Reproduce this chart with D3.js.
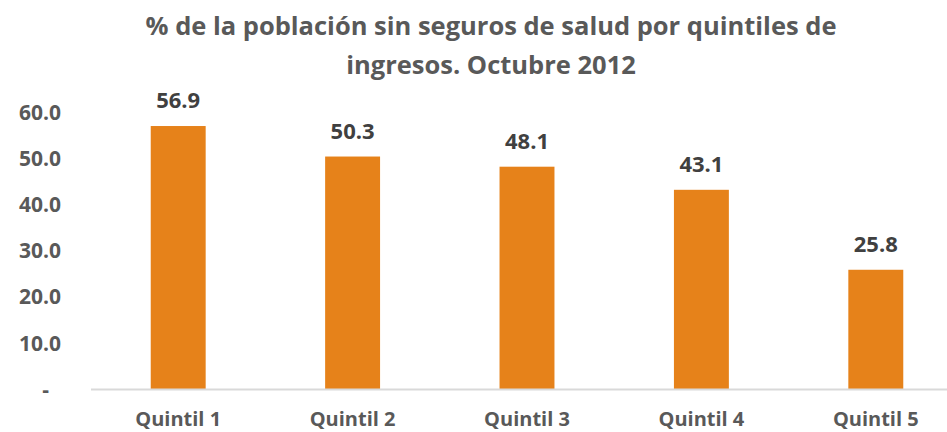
<!DOCTYPE html>
<html>
<head>
<meta charset="utf-8">
<script src="https://d3js.org/d3.v7.min.js"></script>
<style>
  body { margin: 0; background: #fff; }
  text { font-family: "Open Sans", Lato, sans-serif; font-weight: bold; }
</style>
</head>
<body>
<div id="chart"></div>
<script>
// data
var quintiles = ["Quintil 1", "Quintil 2", "Quintil 3", "Quintil 4", "Quintil 5"];
var values = [56.9, 50.3, 48.1, 43.1, 25.8];
var yTicks = [0, 10, 20, 30, 40, 50, 60];
var titleLines = ["% de la población sin seguros de salud por quintiles de", "ingresos. Octubre 2012"];

var W = 947, H = 432;
var svg = d3.select("#chart").append("svg")
  .attr("width", W).attr("height", H);

var x = d3.scaleBand()
  .domain(quintiles)
  .range([91, 963])
  .paddingInner(0.685)
  .paddingOuter(0.3425);

var y = d3.scaleLinear()
  .domain([0, 60])
  .range([389, 111.7]);

// title
svg.append("g").selectAll("text")
  .data(titleLines)
  .enter().append("text")
    .attr("x", 491)
    .attr("y", function(d, i) { return 35 + i * 39; })
    .attr("text-anchor", "middle")
    .attr("font-size", 25.5)
    .attr("fill", "#595959")
    .text(function(d) { return d; });

// y axis labels
var yAxis = svg.append("g")
  .attr("transform", "translate(61,0)")
  .call(d3.axisLeft(y).tickValues(yTicks).tickSize(0).tickPadding(0)
    .tickFormat(function(d) { return d === 0 ? "-" : d3.format(".1f")(d); }));
yAxis.select(".domain").remove();
yAxis.selectAll("text")
  .attr("font-size", 21)
  .attr("fill", "#595959")
  .attr("font-family", null)
  .attr("dy", "0.35em");
yAxis.selectAll(".tick").filter(function(d) { return d === 0; }).select("text")
  .attr("x", -12);

// bars
svg.append("g").selectAll("rect")
  .data(values)
  .enter().append("rect")
    .attr("x", function(d, i) { return x(quintiles[i]); })
    .attr("y", function(d) { return y(d); })
    .attr("width", x.bandwidth())
    .attr("height", function(d) { return y(0) - y(d); })
    .attr("fill", "#E6821A");

// x axis line
svg.append("line")
  .attr("x1", 91).attr("x2", W)
  .attr("y1", y(0) + 0.5).attr("y2", y(0) + 0.5)
  .attr("stroke", "#D9D9D9")
  .attr("stroke-width", 2);

// value labels
svg.append("g").selectAll("text")
  .data(values)
  .enter().append("text")
    .attr("x", function(d, i) { return x(quintiles[i]) + x.bandwidth() / 2; })
    .attr("y", function(d) { return y(d) - 18; })
    .attr("text-anchor", "middle")
    .attr("font-size", 22)
    .attr("fill", "#404040")
    .text(function(d) { return d3.format(".1f")(d); });

// category labels
svg.append("g").selectAll("text")
  .data(quintiles)
  .enter().append("text")
    .attr("x", function(d) { return x(d) + x.bandwidth() / 2; })
    .attr("y", 426)
    .attr("text-anchor", "middle")
    .attr("font-size", 20)
    .attr("fill", "#595959")
    .text(function(d) { return d; });
</script>
</body>
</html>
